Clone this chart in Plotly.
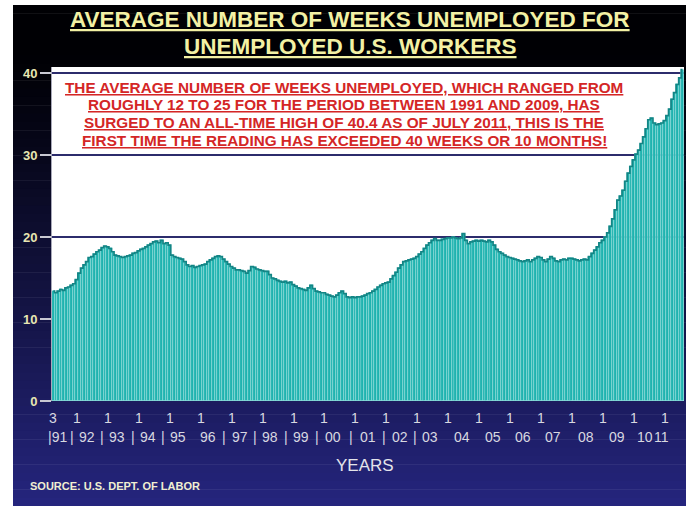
import plotly.graph_objects as go
import pandas as pd

# ---------------- DATA ----------------
months = pd.date_range("1991-03-01", "2011-07-01", freq="MS")

weeks_1991 = [13.4, 13.2, 13.4, 13.6, 13.5, 13.8, 13.9, 14.1, 14.3, 14.8]  # Mar-Dec
weeks_1992 = [15.6, 16.2, 16.6, 17.0, 17.5, 17.6, 17.9, 18.2, 18.4, 18.7, 18.9, 18.8]
weeks_1993 = [18.6, 18.2, 17.8, 17.7, 17.6, 17.5, 17.6, 17.7, 17.8, 18.0, 18.1, 18.3]
weeks_1994 = [18.5, 18.6, 18.8, 19.0, 19.2, 19.4, 19.5, 19.3, 19.6, 19.2, 19.3, 19.0]
weeks_1995 = [17.8, 17.6, 17.5, 17.4, 17.3, 17.0, 16.6, 16.4, 16.5, 16.3, 16.4, 16.5]
weeks_1996 = [16.6, 16.7, 17.0, 17.2, 17.4, 17.6, 17.7, 17.6, 17.3, 17.0, 16.7, 16.4]
weeks_1997 = [16.2, 16.0, 16.0, 15.9, 15.8, 15.6, 15.9, 16.4, 16.3, 16.1, 16.0, 15.9]
weeks_1998 = [15.8, 15.8, 15.4, 15.0, 14.9, 14.7, 14.6, 14.5, 14.6, 14.4, 14.5, 14.2]
weeks_1999 = [14.0, 13.8, 13.7, 13.6, 13.5, 13.8, 14.1, 13.7, 13.4, 13.3, 13.2, 13.2]
weeks_2000 = [13.0, 12.9, 12.8, 12.7, 12.9, 13.2, 13.4, 13.1, 12.7, 12.6, 12.7, 12.6]
weeks_2001 = [12.7, 12.7, 12.8, 12.9, 13.1, 13.2, 13.4, 13.6, 13.9, 14.1, 14.3, 14.4]
weeks_2002 = [14.5, 14.9, 15.3, 15.7, 16.2, 16.6, 17.0, 17.1, 17.2, 17.3, 17.4, 17.6]
weeks_2003 = [17.9, 18.2, 18.6, 19.0, 19.3, 19.6, 19.8, 19.6, 19.6, 19.7, 19.8, 19.9]
weeks_2004 = [19.9, 20.0, 19.9, 19.8, 19.9, 20.4, 19.6, 19.2, 19.4, 19.5, 19.6, 19.5]
weeks_2005 = [19.6, 19.5, 19.4, 19.6, 19.4, 19.0, 18.5, 18.2, 18.0, 17.8, 17.6, 17.5]
weeks_2006 = [17.4, 17.3, 17.2, 17.1, 17.0, 17.1, 17.2, 17.0, 17.2, 17.4, 17.6, 17.5]
weeks_2007 = [17.2, 17.0, 17.3, 17.6, 17.4, 17.1, 17.0, 17.2, 17.3, 17.2, 17.4, 17.4]
weeks_2008 = [17.3, 17.2, 17.1, 17.2, 17.3, 17.2, 17.6, 18.0, 18.4, 18.8, 19.3, 19.6]
weeks_2009 = [20.0, 20.5, 21.3, 22.2, 23.3, 24.5, 25.0, 25.7, 26.8, 27.8, 28.6, 29.4]
weeks_2010 = [30.1, 30.6, 31.4, 32.2, 33.2, 34.3, 34.5, 33.9, 33.7, 33.8, 33.9, 34.2]
weeks_2011 = [34.8, 35.6, 36.8, 37.6, 38.6, 39.4, 40.4]  # Jan-Jul

weeks = (weeks_1991 + weeks_1992 + weeks_1993 + weeks_1994 + weeks_1995 + weeks_1996
         + weeks_1997 + weeks_1998 + weeks_1999 + weeks_2000 + weeks_2001 + weeks_2002
         + weeks_2003 + weeks_2004 + weeks_2005 + weeks_2006 + weeks_2007 + weeks_2008
         + weeks_2009 + weeks_2010 + weeks_2011)

years = list(range(1991, 2012))
year_labels = ["91", "92", "93", "94", "95", "96", "97", "98", "99", "00", "01",
               "02", "03", "04", "05", "06", "07", "08", "09", "10", "11"]
month_labels = ["3"] + ["1"] * 20
y_ticks = [0, 10, 20, 30, 40]
grid_levels = [20, 30, 40]

title_lines = ["AVERAGE NUMBER OF WEEKS UNEMPLOYED FOR", "UNEMPLOYED U.S. WORKERS"]
note_lines = [
    "THE AVERAGE NUMBER OF WEEKS UNEMPLOYED, WHICH RANGED FROM",
    "ROUGHLY 12 TO 25 FOR THE PERIOD BETWEEN 1991 AND 2009, HAS",
    "SURGED TO AN ALL-TIME HIGH OF 40.4 AS OF JULY 2011, THIS IS THE",
    "FIRST TIME THE READING HAS EXCEEDED 40 WEEKS OR 10 MONTHS!",
]

# ---------------- LAYOUT HELPERS ----------------
W, H = 686, 506
ML, MR, MT, MB = 52, 2, 67, 105
PW, PH = W - ML - MR, H - MT - MB


def pxx(px):
    return (px - ML) / PW


def pxy(py):
    return (H - MB - py) / PH


def mshift(date, months_off):
    return pd.Timestamp(date) + pd.Timedelta(days=months_off * 30.44)


FONT = "Liberation Sans, Arial, sans-serif"
DAY_MS = 86400000

fig = go.Figure()

fig.add_trace(go.Bar(
    x=months, y=weeks,
    width=[31 * DAY_MS] * len(months),
    marker=dict(color="#1fb3af", line=dict(width=0.6, color="#95dedb")),
    hoverinfo="skip",
))
fig.add_trace(go.Scatter(
    x=months, y=weeks, mode="lines",
    line=dict(color="#138585", width=1.7, shape="hvh"),
    hoverinfo="skip",
))

# background gradient (dark navy, black at top)
shapes = []
top_c = (0, 0, 4)
bot_c = (37, 37, 126)
N = 60
y0, y1 = 5, H
for i in range(N):
    a = y0 + (y1 - y0) * i / N
    b = y0 + (y1 - y0) * (i + 1) / N
    mid = (a + b) / 2
    t = max(0.0, min(1.0, (mid - 55) / (H - 55)))
    t = t ** 1.1
    c = tuple(int(round(top_c[k] + (bot_c[k] - top_c[k]) * t)) for k in range(3))
    shapes.append(dict(type="rect", xref="paper", yref="paper",
                       x0=pxx(13), x1=pxx(W + 2), y0=pxy(b + 0.5), y1=pxy(a),
                       fillcolor="rgb(%d,%d,%d)" % c, line=dict(width=0), layer="below"))
shapes.append(dict(type="rect", xref="paper", yref="paper", x0=0, x1=1, y0=0, y1=1,
                   fillcolor="white", line=dict(width=0), layer="below"))
# horizontal reference lines (behind the bars)
for lv in grid_levels:
    shapes.append(dict(type="line", xref="paper", yref="y", x0=0, x1=1, y0=lv, y1=lv,
                       line=dict(color="#2c2c6c", width=2), layer="below"))

annotations = []
# title
for i, line in enumerate(title_lines):
    annotations.append(dict(
        text="<u>%s</u>" % line, xref="paper", yref="paper",
        x=pxx(350), y=pxy(20 + 27 * i), xanchor="center", yanchor="middle",
        showarrow=False, font=dict(family=FONT, size=22.5, color="#f3f1a4", weight="bold"),
    ))
# red note
for i, line in enumerate(note_lines):
    annotations.append(dict(
        text="<u>%s</u>" % line, xref="paper", yref="paper",
        x=pxx(344), y=pxy(87 + 17.8 * i), xanchor="center", yanchor="middle",
        showarrow=False, font=dict(family=FONT, size=15.3, color="#d42626", weight="bold"),
    ))

# x axis: month-number row
label_font = dict(family=FONT, size=14, color="#d8d8e0")
for yr, lab in zip(years, month_labels):
    d = pd.Timestamp("1991-03-01") if yr == 1991 else mshift("%d-01-01" % yr, -0.9)
    annotations.append(dict(text=lab, x=d, xref="x", yref="paper", y=pxy(418),
                            xanchor="center", yanchor="middle", showarrow=False,
                            font=label_font))

# x axis: year row (label centres given in months after January)
year_offsets = [3.6, 3.0, 2.6, 2.7, 2.3, 1.9, 2.3, 2.0, 2.0, 2.4, 4.0,
                4.4, 4.0, 4.4, 4.4, 4.1, 3.7, 4.5, 4.5, 3.4, -2.4]
sep_years = [1992, 1993, 1994, 1995, 1997, 1998, 1999, 2000, 2001, 2002, 2003]
centers = {}
for yr, lab, off in zip(years, year_labels, year_offsets):
    txt = "|" + lab if yr == 1991 else lab
    centers[yr] = mshift("%d-01-01" % yr, off)
    annotations.append(dict(text=txt, x=centers[yr], xref="x", yref="paper",
                            y=pxy(437), xanchor="center", yanchor="middle", showarrow=False,
                            font=label_font))
for yr in sep_years:
    mid = centers[yr - 1] + (centers[yr] - centers[yr - 1]) / 2
    annotations.append(dict(text="|", x=mid, xref="x", yref="paper",
                            y=pxy(437), xanchor="center", yanchor="middle", showarrow=False,
                            font=label_font))

annotations.append(dict(text="YEARS", xref="paper", yref="paper", x=pxx(365), y=pxy(465),
                        xanchor="center", yanchor="middle", showarrow=False,
                        font=dict(family=FONT, size=17, color="#e4e4ea")))
annotations.append(dict(text="SOURCE: U.S. DEPT. OF LABOR", xref="paper", yref="paper",
                        x=pxx(28), y=pxy(486), xanchor="left", yanchor="middle", showarrow=False,
                        font=dict(family=FONT, size=11, color="#f0efd2", weight="bold")))

fig.update_layout(
    width=W, height=H,
    margin=dict(l=ML, r=MR, t=MT, b=MB, pad=0),
    paper_bgcolor="white",
    plot_bgcolor="white",
    showlegend=False,
    bargap=0,
    shapes=shapes,
    annotations=annotations,
    xaxis=dict(
        type="date",
        range=["1991-02-14", "2011-07-18"],
        showticklabels=False, ticks="", showgrid=False, zeroline=False,
        showline=False,
    ),
    yaxis=dict(
        range=[0, (H - MB - MT) / 8.2],
        tickvals=y_ticks, ticktext=[str(v) for v in y_ticks],
        showgrid=False,
        zeroline=False,
        showline=True, linecolor="#a8a8b8", linewidth=1,
        ticks="outside", ticklen=11, tickwidth=1.5, tickcolor="#c8c8d2",
        tickfont=dict(family=FONT, size=13, color="#e8e6b2", weight="bold"),
    ),
)

fig.write_html("out.html")
